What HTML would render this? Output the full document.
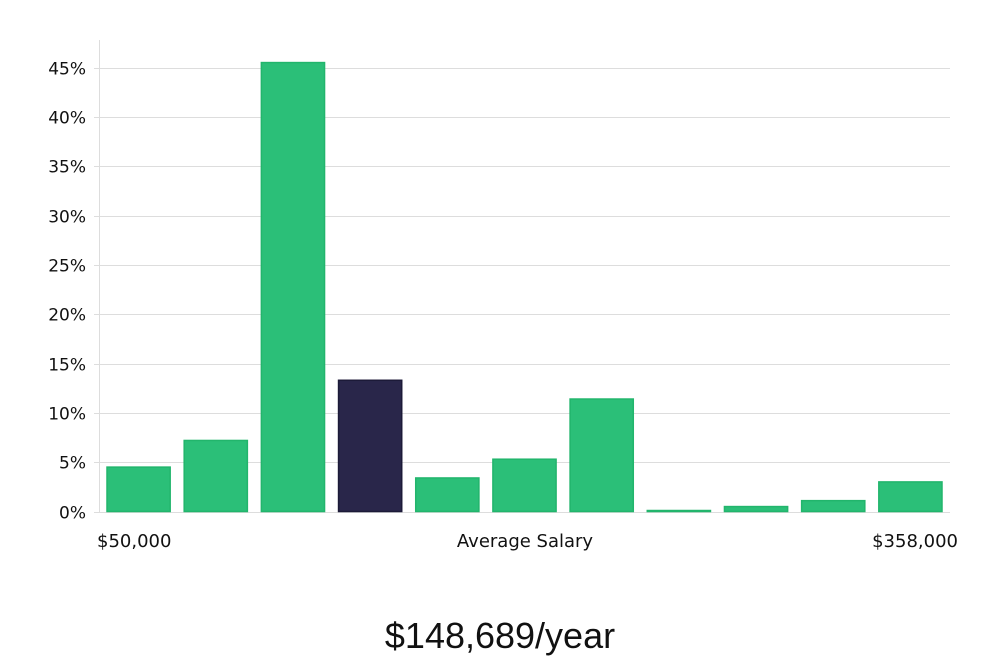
<!DOCTYPE html>
<html><head><meta charset="utf-8"><style>
html,body{margin:0;padding:0;background:#fff;}
body{width:1000px;height:660px;overflow:hidden;position:relative;font-family:"DejaVu Sans","Liberation Sans",sans-serif;}
svg{position:absolute;left:0;top:0;}
</style></head><body>
<svg id="chart" width="1000" height="660" viewBox="0 0 1000 660">
<g id="grid"></g>
<g id="bars"></g>
<g id="yticks"></g>
<line x1="99.5" y1="40" x2="99.5" y2="512" stroke="#ddd" stroke-width="1"/>
<text x="97" y="547" font-size="18" fill="#111">$50,000</text>
<text x="525" y="547" font-size="18" fill="#111" text-anchor="middle">Average Salary</text>
<text x="958" y="547" font-size="18" fill="#111" text-anchor="end">$358,000</text>
<text x="500" y="648" font-size="36" fill="#111" text-anchor="middle" font-family="Liberation Sans, sans-serif" font-weight="300">$148,689/year</text>
</svg>
<script>
const categories = ["b1","b2","b3","b4","b5","b6","b7","b8","b9","b10","b11"];
const values = [4.5, 7.2, 45.5, 13.3, 3.4, 5.3, 11.4, 0.1, 0.5, 1.1, 3.0];
const highlight = [false,false,false,true,false,false,false,false,false,false,false];
const yTicks = [0,5,10,15,20,25,30,35,40,45];
const yTickLabels = ["0%","5%","10%","15%","20%","25%","30%","35%","40%","45%"];
const NS="http://www.w3.org/2000/svg";
const x0=99, x1=950, y0=511.5, yPer=444/45;
function yScale(v){return y0 - v*yPer;}
const step=(x1-x0-2)/categories.length;
function xScale(i){return x0+8+i*step;}
const grid=document.getElementById('grid'), yt=document.getElementById('yticks'), bars=document.getElementById('bars');
yTicks.forEach((t,i)=>{
  const y=Math.round(yScale(t))+0.5;
  const l=document.createElementNS(NS,'line');
  
  
  l.setAttribute('x1',94);l.setAttribute('x2',x1);l.setAttribute('y1',y);l.setAttribute('y2',y);
  l.setAttribute('stroke','#ddd');grid.appendChild(l);
  const tx=document.createElementNS(NS,'text');
  
  
  tx.setAttribute('x',86);tx.setAttribute('y',y+6);tx.setAttribute('text-anchor','end');
  tx.setAttribute('font-size','17');tx.setAttribute('fill','#111');tx.textContent=yTickLabels[i];yt.appendChild(tx);
});
values.forEach((v,i)=>{
  const r=document.createElementNS(NS,'rect');
  
  
  const top=yScale(v);
  r.setAttribute('x',xScale(i));r.setAttribute('width',step-14);
  r.setAttribute('y',top);r.setAttribute('height',Math.max(1,y0-top));
  r.setAttribute('fill',highlight[i]?'#29264a':'#2bbf78');
  r.setAttribute('stroke',highlight[i]?'#1c1a38':'#22b56c');r.setAttribute('stroke-width','1.5');
  bars.appendChild(r);
});
</script>
</body></html>
